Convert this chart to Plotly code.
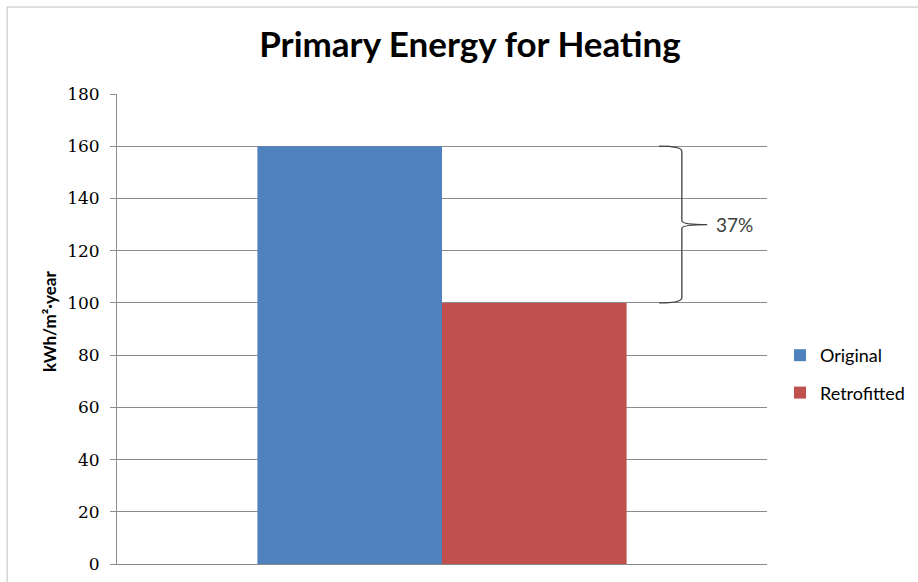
import plotly.graph_objects as go

categories = [""]
original = [160]
retrofitted = [100]
series_names = ["Original", "Retrofitted"]
y_ticks = [0, 20, 40, 60, 80, 100, 120, 140, 160, 180]
reduction_label = "37%"
y_title = "kWh/m²·year"

fig = go.Figure()
fig.add_trace(go.Bar(x=categories, y=original, name=series_names[0],
                     marker=dict(color="#4F81BD", line=dict(width=0)), legendgroup="a"))
fig.add_trace(go.Bar(x=categories, y=retrofitted, name=series_names[1],
                     marker=dict(color="#C0504D", line=dict(width=0)), legendgroup="b"))

top, bot = original[0], retrofitted[0]
mid = (top + bot) / 2
x0, x1, x2 = 0.834, 0.869, 0.908
path = (f"M {x0},{top} Q {x1},{top} {x1},{top-2} L {x1},{mid+1.5} "
        f"Q {x1},{mid} {x2},{mid} Q {x1},{mid} {x1},{mid-1.5} "
        f"L {x1},{bot+2} Q {x1},{bot} {x0},{bot}")
fig.add_shape(type="path", path=path, xref="paper", yref="y",
              line=dict(color="#404040", width=1.3))
fig.add_annotation(x=0.918, y=mid, xref="paper", yref="y", text=reduction_label,
                   showarrow=False, xanchor="left", yanchor="middle",
                   font=dict(family="Lato", size=19, color="#404040"))

# y-axis title placed as rotated text
fig.add_annotation(x=-0.103, y=0.515, xref="paper", yref="paper", text=f"<b>{y_title}</b>",
                   showarrow=False, textangle=-90, xanchor="center", yanchor="middle",
                   font=dict(family="Lato", size=17, color="#000"))

# outer chart border
fig.add_shape(type="rect", xref="paper", yref="paper",
              x0=-0.169, x1=1.3, y0=-0.2, y1=1.185,
              line=dict(color="#BFBFBF", width=1), fillcolor="rgba(0,0,0,0)", layer="below")

fig.update_layout(
    width=918, height=582, autosize=False,
    margin=dict(l=117, r=151, t=94, b=18, autoexpand=False),
    paper_bgcolor="white", plot_bgcolor="white",
    barmode="group", bargap=0.432, bargroupgap=0,
    title=dict(text="<b>Primary Energy for Heating</b>", x=470 / 918, xanchor="center",
               y=1 - 45 / 582, yanchor="middle",
               font=dict(family="Lato", size=35, color="#000000")),
    font=dict(family="Lato", color="#000000"),
    showlegend=True,
    legend=dict(xref="container", yref="container", x=780 / 918, y=1 - 374 / 582,
                xanchor="left", yanchor="middle", traceorder="grouped",
                tracegroupgap=11, font=dict(family="Lato", size=18, color="#000"),
                itemwidth=30, bgcolor="rgba(0,0,0,0)"),
    xaxis=dict(showticklabels=False, showline=True, linecolor="#8C8C8C", linewidth=1,
               ticks="", showgrid=False, zeroline=False),
    yaxis=dict(range=[0, 180], tickvals=y_ticks, showgrid=True, gridcolor="#8C8C8C",
               gridwidth=1, showline=True, linecolor="#8C8C8C", linewidth=1,
               ticks="outside", ticklen=6, tickcolor="#8C8C8C", zeroline=False,
               automargin=False, ticklabelstandoff=7,
               tickfont=dict(family="DejaVu Serif", size=17, color="#000")),
)

fig.write_html("out.html", config={"displayModeBar": False, "responsive": False},
               post_script="document.body.style.margin='0';")
